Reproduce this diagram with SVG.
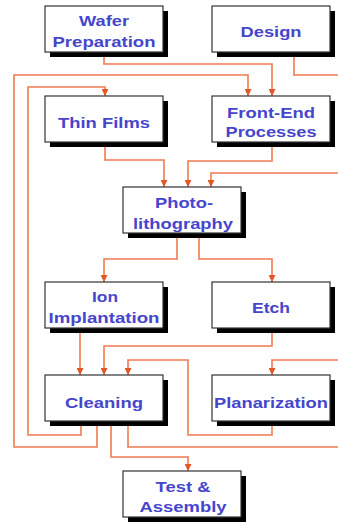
<svg xmlns="http://www.w3.org/2000/svg" width="338" height="522" viewBox="0 0 338 522">
<style>
.bg{fill:#ffffff}
.conn{fill:none;stroke:#f07a50;stroke-width:1.6}
.shadow{fill:#000000}
.box{fill:#ffffff;stroke:#333333;stroke-width:1.2}
.lbl{font-family:"Liberation Sans",Arial,sans-serif;font-weight:bold;font-size:15px;fill:#4646cc;text-anchor:middle}
</style>
<defs>
<marker id="arr" viewBox="0 0 8 8" refX="8" refY="4" markerWidth="7" markerHeight="7" markerUnits="userSpaceOnUse" orient="auto">
<path d="M0,0 L8,4 L0,8 z" fill="#e55525"/>
</marker>
</defs>
<rect class="bg" x="0" y="0" width="338" height="522"/>
<g id="connectors">
<path class="conn" d="M104,52 V64 H272 V96" marker-end="url(#arr)"/>
<path class="conn" d="M294,52 V75 H338"/>
<path class="conn" d="M97,421 V447 H14 V75 H248 V96" marker-end="url(#arr)"/>
<path class="conn" d="M81,421 V435 H28 V87 H105 V96" marker-end="url(#arr)"/>
<path class="conn" d="M105,142 V160 H164 V187" marker-end="url(#arr)"/>
<path class="conn" d="M272,142 V161 H188 V187" marker-end="url(#arr)"/>
<path class="conn" d="M338,173 H211 V187" marker-end="url(#arr)"/>
<path class="conn" d="M177,233 V259 H104 V282" marker-end="url(#arr)"/>
<path class="conn" d="M199,233 V259 H272 V282" marker-end="url(#arr)"/>
<path class="conn" d="M80,328 V375" marker-end="url(#arr)"/>
<path class="conn" d="M272,328 V346 H104 V375" marker-end="url(#arr)"/>
<path class="conn" d="M272,421 V435 H188 V360 H128 V375" marker-end="url(#arr)"/>
<path class="conn" d="M338,360 H272 V375" marker-end="url(#arr)"/>
<path class="conn" d="M128,421 V447 H338"/>
<path class="conn" d="M111,421 V457 H188 V471" marker-end="url(#arr)"/>
</g>
<g id="wafer">
<rect class="shadow" x="50" y="11" width="118" height="46"/>
<rect class="box" x="45" y="6" width="118" height="46"/>
<text class="lbl" x="104" y="26" textLength="50" lengthAdjust="spacingAndGlyphs">Wafer</text>
<text class="lbl" x="104" y="47" textLength="103" lengthAdjust="spacingAndGlyphs">Preparation</text>
</g>
<g id="design">
<rect class="shadow" x="217" y="11" width="118" height="46"/>
<rect class="box" x="212" y="6" width="118" height="46"/>
<text class="lbl" x="271" y="37" textLength="61" lengthAdjust="spacingAndGlyphs">Design</text>
</g>
<g id="thinfilms">
<rect class="shadow" x="50" y="101" width="118" height="46"/>
<rect class="box" x="45" y="96" width="118" height="46"/>
<text class="lbl" x="104" y="128" textLength="92" lengthAdjust="spacingAndGlyphs">Thin Films</text>
</g>
<g id="frontend">
<rect class="shadow" x="217" y="101" width="118" height="46"/>
<rect class="box" x="212" y="96" width="118" height="46"/>
<text class="lbl" x="271" y="118" textLength="88" lengthAdjust="spacingAndGlyphs">Front-End</text>
<text class="lbl" x="271" y="137" textLength="91" lengthAdjust="spacingAndGlyphs">Processes</text>
</g>
<g id="photo">
<rect class="shadow" x="128" y="192" width="118" height="46"/>
<rect class="box" x="123" y="187" width="118" height="46"/>
<text class="lbl" x="184" y="208" textLength="58" lengthAdjust="spacingAndGlyphs">Photo-</text>
<text class="lbl" x="183" y="229" textLength="100" lengthAdjust="spacingAndGlyphs">lithography</text>
</g>
<g id="ion">
<rect class="shadow" x="50" y="287" width="118" height="46"/>
<rect class="box" x="45" y="282" width="118" height="46"/>
<text class="lbl" x="105" y="302" textLength="26" lengthAdjust="spacingAndGlyphs">Ion</text>
<text class="lbl" x="104" y="323" textLength="111" lengthAdjust="spacingAndGlyphs">Implantation</text>
</g>
<g id="etch">
<rect class="shadow" x="217" y="287" width="118" height="46"/>
<rect class="box" x="212" y="282" width="118" height="46"/>
<text class="lbl" x="271" y="313" textLength="38" lengthAdjust="spacingAndGlyphs">Etch</text>
</g>
<g id="cleaning">
<rect class="shadow" x="50" y="380" width="118" height="46"/>
<rect class="box" x="45" y="375" width="118" height="46"/>
<text class="lbl" x="104" y="408" textLength="78" lengthAdjust="spacingAndGlyphs">Cleaning</text>
</g>
<g id="planarization">
<rect class="shadow" x="217" y="380" width="118" height="46"/>
<rect class="box" x="212" y="375" width="118" height="46"/>
<text class="lbl" x="271" y="408" textLength="114" lengthAdjust="spacingAndGlyphs">Planarization</text>
</g>
<g id="test">
<rect class="shadow" x="128" y="476" width="118" height="46"/>
<rect class="box" x="123" y="471" width="118" height="46"/>
<text class="lbl" x="183" y="492" textLength="55" lengthAdjust="spacingAndGlyphs">Test &amp;</text>
<text class="lbl" x="183" y="512" textLength="87" lengthAdjust="spacingAndGlyphs">Assembly</text>
</g>
</svg>
